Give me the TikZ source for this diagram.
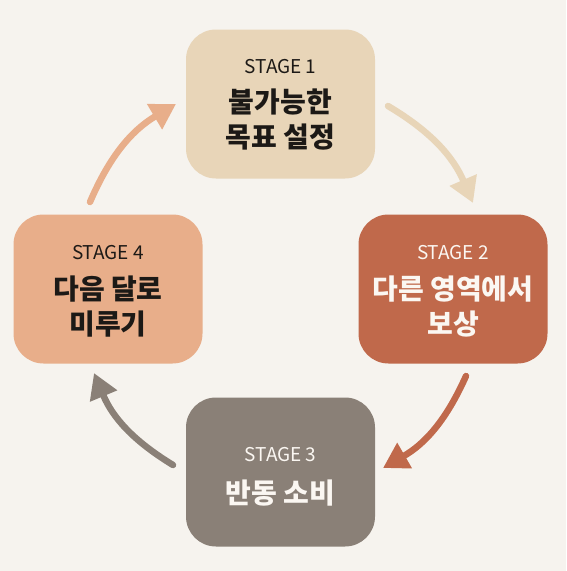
\documentclass[tikz,border=0pt]{standalone}
\usepackage{fontspec}
\setmainfont{Noto Sans CJK KR}
\usetikzlibrary{arrows.meta}
\definecolor{bg}{HTML}{F6F3EE}
\definecolor{cA}{HTML}{E8D5B8}
\definecolor{cB}{HTML}{C0694B}
\definecolor{cC}{HTML}{8A8077}
\definecolor{cD}{HTML}{E8AE8A}
\definecolor{ink}{HTML}{1C1916}
\definecolor{paper}{HTML}{FBF7F2}
\tikzset{
  box/.style={rounded corners=30pt, minimum width=189pt, minimum height=149pt, inner sep=0pt, draw=none},
  stg/.style={font=\fontsize{19}{19}\selectfont, inner sep=0pt},
  ttl/.style={font=\fontsize{28}{35}\selectfont\bfseries, align=center, inner sep=0pt},
  flow/.style={line width=6.5pt, line cap=round, -{Triangle[length=25pt,width=28pt]}}
}
\begin{document}
\begin{tikzpicture}[x=1pt,y=-1pt]
\fill[bg] (0,0) rectangle (566,571);
\useasboundingbox (0,0) rectangle (566,571);
\node[box, fill=cA] (s1) at (280.5,104) {};
\node[box, fill=cB] (s2) at (453,289) {};
\node[box, fill=cC] (s3) at (280.5,472) {};
\node[box, fill=cD] (s4) at (108,289) {};
\node[stg, text=ink, yshift=37pt] (l1) at (s1) {STAGE 1};
\node[ttl, text=ink, yshift=-16pt] (m1) at (s1) {불가능한\\목표 설정};
\node[stg, text=paper, yshift=36pt] (l2) at (s2) {STAGE 2};
\node[ttl, text=paper, yshift=-18pt] (m2) at (s2) {다른 영역에서\\보상};
\node[stg, text=paper, yshift=17pt] (l3) at (s3) {STAGE 3};
\node[ttl, text=paper, yshift=-21pt] (m3) at (s3) {반동 소비};
\node[stg, text=ink, yshift=36pt] (l4) at (s4) {STAGE 4};
\node[ttl, text=ink, yshift=-18pt] (m4) at (s4) {다음 달로\\미루기};
\coordinate (a1s) at (388,106);
\coordinate (a1e) at (473,203);
\coordinate (a2s) at (466,376);
\coordinate (a2e) at (383,468);
\coordinate (a3s) at (173,465);
\coordinate (a3e) at (94,373);
\coordinate (a4s) at (90,202);
\coordinate (a4e) at (176,104);
\draw[flow, draw=cA, color=cA] (a1s) to[bend left=18] (a1e);
\draw[flow, draw=cB, color=cB] (a2s) to[bend left=18] (a2e);
\draw[flow, draw=cC, color=cC] (a3s) to[bend left=18] (a3e);
\draw[flow, draw=cD, color=cD] (a4s) to[bend left=18] (a4e);
\end{tikzpicture}
\end{document}
